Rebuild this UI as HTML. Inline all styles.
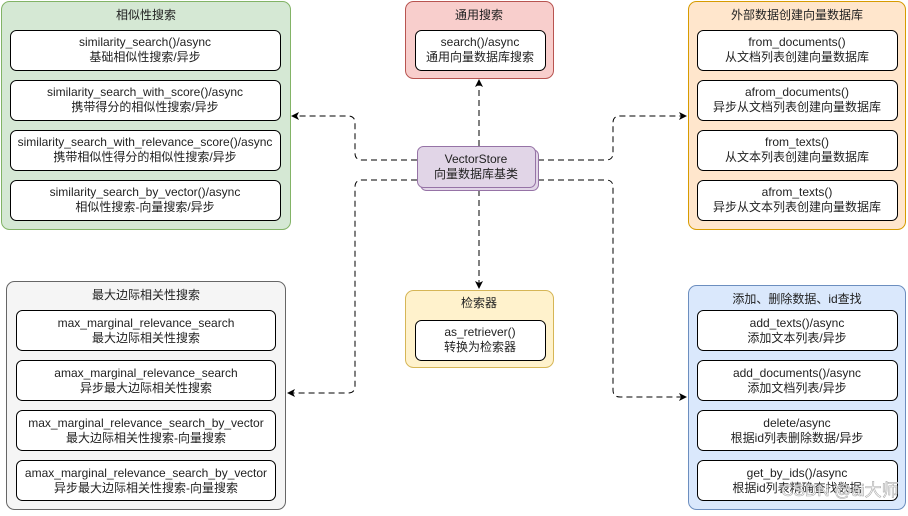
<!DOCTYPE html>
<html><head><meta charset="utf-8"><style>
html,body{margin:0;padding:0;background:#fff;}
svg text{font-family:"Liberation Sans","Noto Sans CJK SC",sans-serif;font-size:12px;fill:#222;text-anchor:middle;}
</style></head><body>
<svg width="908" height="511" viewBox="0 0 908 511" xmlns="http://www.w3.org/2000/svg">
<defs><marker id="a" markerWidth="8" markerHeight="8" refX="7" refY="4" orient="auto" markerUnits="userSpaceOnUse"><path d="M0,0 L8,4 L0,8 L2,4 z" fill="#000"/></marker></defs>
<g fill="none" stroke="#000" stroke-width="1" stroke-dasharray="6 4">
<path d="M417 160 H362 Q355 160 355 153 V123 Q355 116 348 116 H292" marker-end="url(#a)"/>
<path d="M417 180 H362 Q355 180 355 187 V386 Q355 393 348 393 H288" marker-end="url(#a)"/>
<path d="M538 160 H606 Q613 160 613 153 V123 Q613 116 620 116 H686" marker-end="url(#a)"/>
<path d="M538 180 H606 Q613 180 613 187 V390 Q613 397 620 397 H686" marker-end="url(#a)"/>
<path d="M479 146 V80" marker-end="url(#a)"/>
<path d="M479 190 V288" marker-end="url(#a)"/>
</g>
<rect x="1.5" y="1.5" width="289" height="228" rx="8" fill="#d5e8d4" stroke="#82b366"/>
<text x="146" y="19">相似性搜索</text>
<g fill="#fff" stroke="#000">
<rect x="10.5" y="30.5" width="270" height="40" rx="6"/><rect x="10.5" y="80.5" width="270" height="40" rx="6"/><rect x="10.5" y="130.5" width="270" height="40" rx="6"/><rect x="10.5" y="180.5" width="270" height="40" rx="6"/></g>
<text x="145" y="46">similarity_search()/async</text><text x="145" y="61">基础相似性搜索/异步</text>
<text x="145" y="96">similarity_search_with_score()/async</text><text x="145" y="111">携带得分的相似性搜索/异步</text>
<text x="145" y="146">similarity_search_with_relevance_score()/async</text><text x="145" y="161">携带相似性得分的相似性搜索/异步</text>
<text x="145" y="196">similarity_search_by_vector()/async</text><text x="145" y="211">相似性搜索-向量搜索/异步</text>
<rect x="405.5" y="1.5" width="148" height="77" rx="8" fill="#f8cecc" stroke="#b85450"/>
<text x="479" y="19">通用搜索</text>
<rect x="415.5" y="30.5" width="130" height="40" rx="6" fill="#fff" stroke="#000"/>
<text x="480" y="46">search()/async</text><text x="480" y="61">通用向量数据库搜索</text>
<rect x="688.5" y="1.5" width="217" height="228" rx="8" fill="#ffe6cc" stroke="#d79b00"/>
<text x="797" y="19">外部数据创建向量数据库</text>
<g fill="#fff" stroke="#000">
<rect x="697.5" y="30.5" width="200" height="40" rx="6"/><rect x="697.5" y="80.5" width="200" height="40" rx="6"/><rect x="697.5" y="130.5" width="200" height="40" rx="6"/><rect x="697.5" y="180.5" width="200" height="40" rx="6"/></g>
<text x="797" y="46">from_documents()</text><text x="797" y="61">从文档列表创建向量数据库</text>
<text x="797" y="96">afrom_documents()</text><text x="797" y="111">异步从文档列表创建向量数据库</text>
<text x="797" y="146">from_texts()</text><text x="797" y="161">从文本列表创建向量数据库</text>
<text x="797" y="196">afrom_texts()</text><text x="797" y="211">异步从文本列表创建向量数据库</text>
<rect x="420.5" y="149.5" width="118" height="41" rx="6" fill="#e1d5e7" stroke="#9673a6"/>
<rect x="417.5" y="146.5" width="118" height="41" rx="6" fill="#e1d5e7" stroke="#9673a6"/>
<text x="476" y="163">VectorStore</text><text x="476" y="178">向量数据库基类</text>
<rect x="6.5" y="281.5" width="279" height="228" rx="8" fill="#f5f5f5" stroke="#666"/>
<text x="146" y="299">最大边际相关性搜索</text>
<g fill="#fff" stroke="#000">
<rect x="16.5" y="310.5" width="259" height="40" rx="6"/><rect x="16.5" y="360.5" width="259" height="40" rx="6"/><rect x="16.5" y="410.5" width="259" height="40" rx="6"/><rect x="16.5" y="460.5" width="259" height="40" rx="6"/></g>
<text x="146" y="327">max_marginal_relevance_search</text><text x="146" y="342">最大边际相关性搜索</text>
<text x="146" y="377">amax_marginal_relevance_search</text><text x="146" y="392">异步最大边际相关性搜索</text>
<text x="146" y="427">max_marginal_relevance_search_by_vector</text><text x="146" y="442">最大边际相关性搜索-向量搜索</text>
<text x="146" y="477">amax_marginal_relevance_search_by_vector</text><text x="146" y="492">异步最大边际相关性搜索-向量搜索</text>
<rect x="405.5" y="290.5" width="148" height="77" rx="8" fill="#fff2cc" stroke="#d6b656"/>
<text x="479" y="307">检索器</text>
<rect x="415.5" y="320.5" width="130" height="40" rx="6" fill="#fff" stroke="#000"/>
<text x="480" y="336">as_retriever()</text><text x="480" y="351">转换为检索器</text>
<rect x="688.5" y="285.5" width="217" height="224" rx="8" fill="#dae8fc" stroke="#6c8ebf"/>
<text x="797" y="303">添加、删除数据、id查找</text>
<g fill="#fff" stroke="#000">
<rect x="697.5" y="310.5" width="200" height="40" rx="6"/><rect x="697.5" y="360.5" width="200" height="40" rx="6"/><rect x="697.5" y="410.5" width="200" height="40" rx="6"/><rect x="697.5" y="460.5" width="200" height="40" rx="6"/></g>
<text x="797" y="327">add_texts()/async</text><text x="797" y="342">添加文本列表/异步</text>
<text x="797" y="377">add_documents()/async</text><text x="797" y="392">添加文档列表/异步</text>
<text x="797" y="427">delete/async</text><text x="797" y="442">根据id列表删除数据/异步</text>
<text x="797" y="477">get_by_ids()/async</text><text x="797" y="492">根据id列表精确查找数据</text>
<text x="840" y="496" style="fill:#fff;fill-opacity:0.8;stroke:#aaa;stroke-width:0.6;font-size:17px">CSDN @ai大师</text>
</svg>
</body></html>
